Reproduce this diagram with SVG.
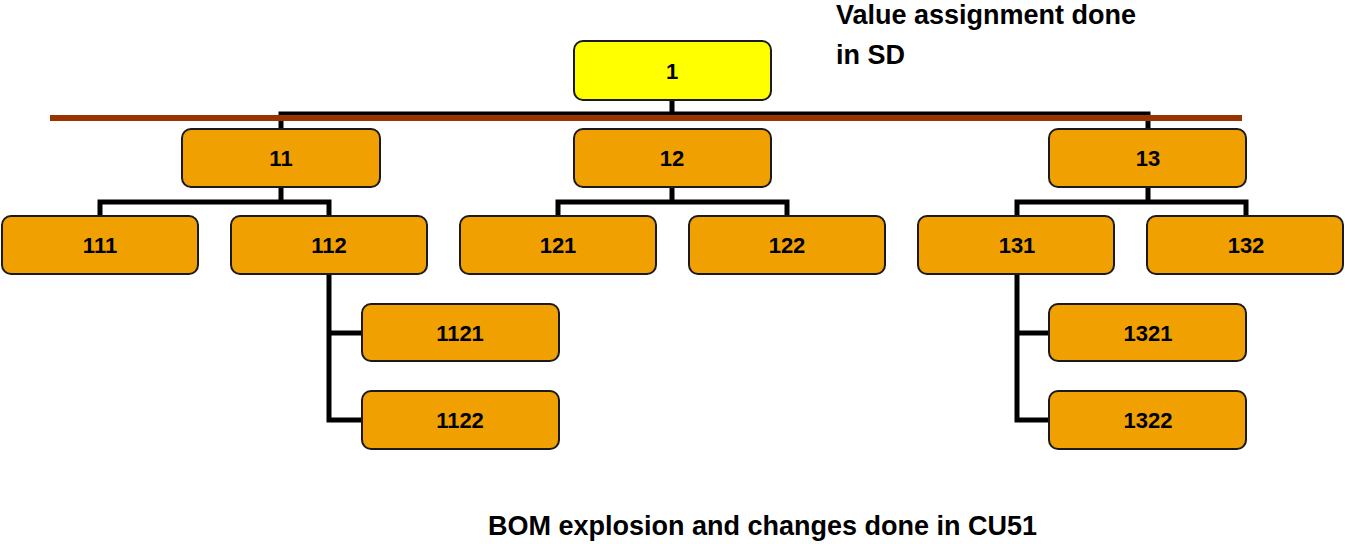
<svg xmlns="http://www.w3.org/2000/svg" width="1345" height="544" viewBox="0 0 1345 544">
<style>
.n rect{fill:#f0a000;stroke:#1a1a1a;stroke-width:2}
.n text{font-family:"Liberation Sans",Arial,sans-serif;font-weight:bold;font-size:22px;text-anchor:middle;dominant-baseline:central}
.c{fill:none;stroke:#000;stroke-width:5}
.t{font-family:"Liberation Sans",Arial,sans-serif;font-weight:bold;font-size:27px}
</style>
<rect width="1345" height="544" fill="#fff"/>
<g id="connectors">
<path class="c" d="M672 100V114M281 129V114H1148V129"/>
<path class="c" d="M281 187V202M100 216V202H329V216M672 187V202M558 216V202H787V216M1148 187V202M1017 216V202H1246V216"/>
<path class="c" d="M329 274V420H362M329 333H362M1017 274V420H1049M1017 333H1049"/>
</g>
<line x1="50" y1="118" x2="1242" y2="118" stroke="#993300" stroke-width="6"/>
<g id="n1" class="n"><rect x="574" y="41" width="197" height="59" rx="9" style="fill:#ffff00"/><text x="672" y="71">1</text></g>
<g id="n11" class="n"><rect x="182" y="129" width="198" height="58" rx="9"/><text x="281" y="158">11</text></g>
<g id="n12" class="n"><rect x="574" y="129" width="197" height="58" rx="9"/><text x="672" y="158">12</text></g>
<g id="n13" class="n"><rect x="1049" y="129" width="197" height="58" rx="9"/><text x="1148" y="158">13</text></g>
<g id="n111" class="n"><rect x="2" y="216" width="196" height="58" rx="9"/><text x="100" y="245">111</text></g>
<g id="n112" class="n"><rect x="231" y="216" width="196" height="58" rx="9"/><text x="329" y="245">112</text></g>
<g id="n121" class="n"><rect x="460" y="216" width="196" height="58" rx="9"/><text x="558" y="245">121</text></g>
<g id="n122" class="n"><rect x="689" y="216" width="196" height="58" rx="9"/><text x="787" y="245">122</text></g>
<g id="n131" class="n"><rect x="918" y="216" width="196" height="58" rx="9"/><text x="1017" y="245">131</text></g>
<g id="n132" class="n"><rect x="1147" y="216" width="196" height="58" rx="9"/><text x="1246" y="245">132</text></g>
<g id="n1121" class="n"><rect x="362" y="304" width="197" height="57" rx="9"/><text x="460" y="333">1121</text></g>
<g id="n1122" class="n"><rect x="362" y="391" width="197" height="58" rx="9"/><text x="460" y="420">1122</text></g>
<g id="n1321" class="n"><rect x="1049" y="304" width="197" height="57" rx="9"/><text x="1148" y="333">1321</text></g>
<g id="n1322" class="n"><rect x="1049" y="391" width="197" height="58" rx="9"/><text x="1148" y="420">1322</text></g>
<text class="t" x="836" y="24">Value assignment done</text>
<text class="t" x="836" y="64">in SD</text>
<text class="t" x="488" y="535">BOM explosion and changes done in CU51</text>
</svg>
